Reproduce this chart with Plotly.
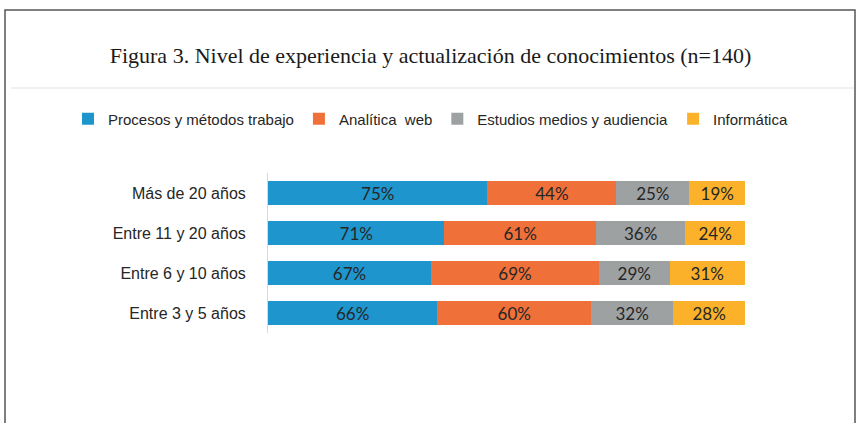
import plotly.graph_objects as go

categories = ["Más de 20 años", "Entre 11 y 20 años", "Entre 6 y 10 años", "Entre 3 y 5 años"]
series_names = ["Procesos y métodos trabajo", "Analítica  web", "Estudios medios y audiencia", "Informática"]
procesos = [75, 71, 67, 66]
analitica = [44, 61, 69, 60]
estudios = [25, 36, 29, 32]
informatica = [19, 24, 31, 28]
colors = ["#1E96CD", "#F0703A", "#9EA1A2", "#FBB22A"]

W, H = 861, 423

fig = go.Figure()
for name, vals, col in zip(series_names, [procesos, analitica, estudios, informatica], colors):
    fig.add_trace(go.Bar(
        y=categories, x=vals, name=name, orientation="h",
        marker=dict(color=col, line=dict(width=0)),
        text=[f"{v}%" for v in vals], textposition="inside", insidetextanchor="middle",
        textfont=dict(family="Lato, sans-serif", size=17, color="#262626"),
        constraintext="none",
    ))

fig.update_layout(
    width=W, height=H,
    margin=dict(l=0, r=0, t=0, b=0),
    paper_bgcolor="white", plot_bgcolor="white",
    barmode="stack", barnorm="percent", bargap=0.38,
    title=dict(
        text="Figura 3. Nivel de experiencia y actualización de conocimientos (n=140)",
        x=0.5, xanchor="center", y=1 - 55 / H, yanchor="middle",
        font=dict(family="Liberation Serif, serif", size=22, color="#1a1a1a"),
    ),
    legend=dict(
        orientation="h", x=0.5, xanchor="center", y=1 - 119 / H, yanchor="middle",
        font=dict(family="Liberation Sans, Arial, sans-serif", size=15, color="#262626"),
        traceorder="normal", itemwidth=30,
    ),
    xaxis=dict(domain=[268 / W, 745 / W], range=[0, 100], showgrid=False, zeroline=False,
               showticklabels=False, showline=False),
    yaxis=dict(domain=[1 - 333 / H, 1 - 173 / H], categoryorder="array", categoryarray=categories,
               autorange="reversed", showgrid=False, zeroline=False,
               showline=True, linecolor="#d9d9d9", linewidth=1, ticks="",
               ticklabelstandoff=18,
               tickfont=dict(family="Liberation Sans, Arial, sans-serif", size=16, color="#262626")),
    shapes=[
        dict(type="rect", xref="paper", yref="paper", x0=5 / W, x1=855 / W, y0=-0.05, y1=1 - 10 / H,
             line=dict(color="#555555", width=1.5), fillcolor="rgba(0,0,0,0)"),
        dict(type="line", xref="paper", yref="paper", x0=11 / W, x1=854 / W, y0=1 - 88 / H, y1=1 - 88 / H,
             line=dict(color="#e3e3e3", width=1)),
    ],
)

fig.write_html("out.html")
